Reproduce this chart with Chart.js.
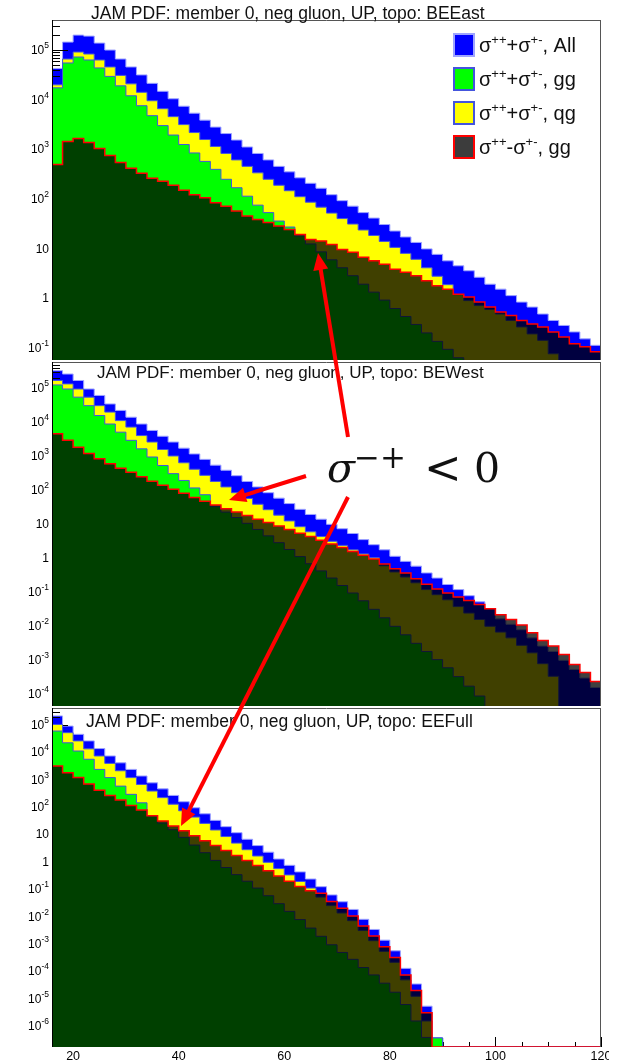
<!DOCTYPE html>
<html>
<head>
<meta charset="utf-8">
<title>JAM PDF: member 0, neg gluon, UP</title>
<script src="https://cdn.jsdelivr.net/npm/chart.js@4.4.1/dist/chart.umd.min.js"></script>
<style>
  html, body { margin: 0; padding: 0; background: #fff; }
  #page { position: relative; width: 625px; height: 1063px; overflow: hidden;
          font-family: "Liberation Sans", Arial, sans-serif; }
  #page canvas { position: absolute; left: 0; }
  .title { position: absolute; font-size: 17.5px; line-height: 1; color: #111; white-space: nowrap; }
  .leg { position: absolute; left: 453px; height: 24px; line-height: 24px; font-size: 20px;
         color: #111; white-space: nowrap; }
  .leg .box { display: inline-block; box-sizing: border-box; width: 22px; height: 24px;
              vertical-align: top; margin-right: 4px; border: 2px solid; }
  .leg sup { font-size: 13px; vertical-align: 8px; line-height: 0; }
  .math { position: absolute; font-family: "DejaVu Serif", serif; line-height: 1; color: #111; white-space: nowrap; }
  #arrows { position: absolute; left: 0; top: 0; }
  #edge { position: absolute; left: 609px; top: 1048px; width: 16px; height: 15px; background: #fff; }
</style>
</head>
<body>
<div id="page">
  <canvas id="cEast" width="625" height="362" style="top:0"></canvas>
  <canvas id="cWest" width="625" height="346" style="top:361px"></canvas>
  <canvas id="cFull" width="625" height="356" style="top:707px"></canvas>

  <div class="title" style="left:91px;top:4.5px">JAM PDF: member 0, neg gluon, UP, topo: BEEast</div>
  <div class="title" style="left:97px;top:363.5px;font-size:17px">JAM PDF: member 0, neg gluon, UP, topo: BEWest</div>
  <div class="title" style="left:86px;top:713px">JAM PDF: member 0, neg gluon, UP, topo: EEFull</div>

  <div class="leg" style="top:33px"><span class="box" style="background:#0000ff;border-color:#9ea4ff"></span>σ<sup>++</sup>+σ<sup>+-</sup>, All</div>
  <div class="leg" style="top:67px"><span class="box" style="background:#00ff00;border-color:#4455dd"></span>σ<sup>++</sup>+σ<sup>+-</sup>, gg</div>
  <div class="leg" style="top:101px"><span class="box" style="background:#ffff00;border-color:#4455dd"></span>σ<sup>++</sup>+σ<sup>+-</sup>, qg</div>
  <div class="leg" style="top:135px"><span class="box" style="background:#3c3c3c;border-color:#ff0000"></span>σ<sup>++</sup>-σ<sup>+-</sup>, gg</div>

  <span class="math" style="left:327px;top:448px;font-size:41px;font-style:italic">σ</span>
  <span class="math" style="left:354px;top:442px;font-size:31px">−+</span>
  <span class="math" style="left:424px;top:445px;font-size:45px">&lt;</span>
  <span class="math" style="left:474px;top:448px;font-size:41px">0</span>

  <svg id="arrows" width="625" height="1063"></svg>
  <div id="edge"></div>
</div>

<script>
// bin edges of the pT histograms (2 GeV bins)
const binEdges = [16, 18, 20, 22, 24, 26, 28, 30, 32, 34, 36, 38, 40, 42, 44, 46, 48, 50, 52, 54,
  56, 58, 60, 62, 64, 66, 68, 70, 72, 74, 76, 78, 80, 82, 84, 86, 88, 90, 92, 94,
  96, 98, 100, 102, 104, 106, 108, 110, 112, 114, 116, 118, 120];

// bin contents, stored as log10 (null = empty bin)
// topo: BEEast
const allEast = [4.63, 5.16, 5.30, 5.28, 5.14, 5.00, 4.82, 4.66, 4.50, 4.33,
  4.17, 4.02, 3.87, 3.73, 3.59, 3.45, 3.32, 3.19, 3.05, 2.92,
  2.79, 2.66, 2.55, 2.43, 2.32, 2.22, 2.09, 1.97, 1.86, 1.73,
  1.62, 1.49, 1.36, 1.24, 1.13, 1.00, 0.89, 0.76, 0.66, 0.56,
  0.43, 0.29, 0.19, 0.06, -0.07, -0.17, -0.31, -0.44, -0.54, -0.67,
  -0.81, -0.94];
const qgEast = [4.30, 4.82, 4.96, 4.92, 4.80, 4.66, 4.49, 4.32, 4.15, 3.98,
  3.82, 3.66, 3.50, 3.34, 3.20, 3.06, 2.92, 2.79, 2.66, 2.53,
  2.40, 2.28, 2.17, 2.05, 1.94, 1.84, 1.72, 1.61, 1.50, 1.38,
  1.27, 1.15, 1.03, 0.91, 0.79, 0.62, 0.45, 0.28, 0.08, -0.04,
  -0.14, -0.22, -0.31, -0.44, -0.57, -0.71, -0.84, -1.11, -1.50, -1.80,
  -2.10, -2.40];
const ggEast = [4.24, 4.74, 4.86, 4.80, 4.64, 4.47, 4.28, 4.08, 3.88, 3.68,
  3.48, 3.29, 3.10, 2.93, 2.76, 2.60, 2.40, 2.23, 2.06, 1.88,
  1.73, 1.56, 1.44, 1.26, 1.10, 0.94, 0.78, 0.62, 0.46, 0.29,
  0.13, -0.03, -0.20, -0.36, -0.52, -0.69, -0.86, -1.02, -1.19, -1.36,
  -1.53, -1.71, -1.88, -2.06, -2.22, -2.41, -2.57, -2.76, -2.93, -3.10,
  -3.28, -3.45];
const diffEast = [2.70, 3.16, 3.22, 3.14, 3.02, 2.88, 2.74, 2.62, 2.52, 2.42,
  2.36, 2.28, 2.18, 2.09, 2.03, 1.93, 1.86, 1.76, 1.66, 1.59,
  1.53, 1.46, 1.39, 1.29, 1.19, 1.16, 1.09, 0.99, 0.93, 0.83,
  0.76, 0.69, 0.59, 0.53, 0.46, 0.36, 0.26, 0.19, 0.09, 0.03,
  -0.07, -0.17, -0.27, -0.34, -0.44, -0.51, -0.57, -0.67, -0.77, -0.91,
  -0.97, -1.07];

// topo: BEWest
const allWest = [5.52, 5.42, 5.23, 4.98, 4.79, 4.54, 4.35, 4.15, 3.95, 3.76,
  3.59, 3.42, 3.24, 3.07, 2.91, 2.74, 2.59, 2.43, 2.26, 2.10,
  1.93, 1.77, 1.61, 1.44, 1.29, 1.15, 1.00, 0.87, 0.73, 0.55,
  0.40, 0.25, 0.06, -0.09, -0.23, -0.43, -0.58, -0.77, -0.92, -1.10,
  -1.28, -1.48, -1.78, -1.94, -2.10, -2.34, -2.58, -2.74, -3.00, -3.27,
  -3.52, -3.80];
const qgWest = [5.23, 5.13, 4.98, 4.74, 4.49, 4.30, 4.05, 3.86, 3.61, 3.42,
  3.20, 3.01, 2.81, 2.62, 2.44, 2.26, 2.10, 1.93, 1.76, 1.59,
  1.43, 1.27, 1.10, 0.93, 0.78, 0.64, 0.50, 0.38, 0.25, 0.13,
  0.02, -0.22, -0.40, -0.55, -0.72, -0.92, -1.07, -1.22, -1.42, -1.61,
  -1.80, -2.00, -2.17, -2.34, -2.56, -2.78, -3.10, -3.47, -4.50, -4.80,
  -5.10, -5.40];
const ggWest = [5.10, 4.98, 4.74, 4.49, 4.20, 3.95, 3.71, 3.47, 3.22, 2.98,
  2.73, 2.49, 2.29, 2.07, 1.87, 1.52, 1.36, 1.20, 1.03, 0.85,
  0.66, 0.46, 0.26, 0.05, -0.16, -0.37, -0.58, -0.80, -1.02, -1.25,
  -1.50, -1.75, -2.00, -2.25, -2.50, -2.74, -2.98, -3.22, -3.48, -3.76,
  -4.05, -4.40, -4.80, -5.10, -5.40, -5.70, -6.00, -6.30, -6.60, -6.90,
  -7.20, -7.50];
const diffWest = [3.66, 3.47, 3.27, 3.08, 2.93, 2.78, 2.65, 2.53, 2.40, 2.27,
  2.15, 2.03, 1.91, 1.79, 1.68, 1.57, 1.46, 1.36, 1.26, 1.15,
  1.05, 0.95, 0.85, 0.74, 0.64, 0.53, 0.42, 0.32, 0.20, 0.09,
  -0.02, -0.17, -0.31, -0.43, -0.60, -0.76, -0.90, -1.02, -1.14, -1.24,
  -1.36, -1.48, -1.66, -1.80, -1.96, -2.19, -2.42, -2.58, -2.83, -3.12,
  -3.36, -3.62];

// topo: EEFull
const allFull = [5.33, 4.96, 4.66, 4.42, 4.14, 3.87, 3.62, 3.38, 3.14, 2.89,
  2.67, 2.43, 2.20, 1.98, 1.76, 1.52, 1.29, 1.07, 0.83, 0.60,
  0.36, 0.11, -0.12, -0.36, -0.62, -0.90, -1.20, -1.45, -1.73, -2.09,
  -2.46, -2.85, -3.24, -3.88, -4.45, -5.26, -6.42, null, null, null,
  null, null, null, null, null, null, null, null, null, null,
  null, null];
const qgFull = [5.02, 4.72, 4.42, 4.13, 3.87, 3.60, 3.33, 3.08, 2.83, 2.59,
  2.35, 2.11, 1.87, 1.64, 1.41, 1.17, 0.93, 0.69, 0.45, 0.22,
  -0.01, -0.24, -0.47, -0.71, -0.95, -1.28, -1.59, -1.86, -2.14, -2.50,
  -2.87, -3.26, -3.66, -4.30, -4.90, -5.80, -6.42, null, null, null,
  null, null, null, null, null, null, null, null, null, null,
  null, null];
const ggFull = [4.78, 4.35, 4.05, 3.75, 3.38, 3.08, 2.77, 2.47, 2.16, 1.68,
  1.42, 1.18, 0.90, 0.62, 0.34, 0.06, -0.20, -0.46, -0.70, -0.95,
  -1.23, -1.52, -1.80, -2.10, -2.41, -2.71, -3.02, -3.30, -3.55, -3.85,
  -4.12, -4.42, -4.75, -5.20, -5.80, -6.40, -6.42, null, null, null,
  null, null, null, null, null, null, null, null, null, null,
  null, null];
const diffFull = [3.50, 3.26, 3.08, 2.85, 2.62, 2.43, 2.26, 2.06, 1.90, 1.69,
  1.50, 1.31, 1.14, 0.96, 0.78, 0.60, 0.42, 0.24, 0.06, -0.13,
  -0.32, -0.51, -0.70, -0.89, -1.05, -1.14, -1.44, -1.69, -1.97, -2.33,
  -2.70, -3.09, -3.48, -4.12, -4.69, -5.50, null, null, null, null,
  null, null, null, null, null, null, null, null, null, null,
  null, null];

// axis labels
const eastDecades = [0.1, 1, 10, 100, 1e3, 1e4, 1e5];
const westDecades = [1e-4, 1e-3, 0.01, 0.1, 1, 10, 100, 1e3, 1e4, 1e5];
const fullDecades = [1e-6, 1e-5, 1e-4, 1e-3, 0.01, 0.1, 1, 10, 100, 1e3, 1e4, 1e5];
const xTickValues = [20, 40, 60, 80, 100, 120];

const FONT = '"Liberation Sans", Arial, sans-serif';
// the sigma++ - sigma+- histogram darkens whatever lies under it
const DIFF_SHADE = 'rgba(0,0,0,0.75)';

// y-axis ticks drawn inside the frame, right after the "All" histogram
const axisTicks = {
  id: 'axisTicks',
  beforeDatasetsDraw(chart) {
    // bottom frame line sits under the histograms
    const ctx = chart.ctx, a = chart.chartArea;
    ctx.save();
    ctx.strokeStyle = '#000';
    ctx.lineWidth = 1;
    ctx.beginPath();
    ctx.moveTo(a.left, a.bottom - 0.5); ctx.lineTo(a.right, a.bottom - 0.5);
    ctx.stroke();
    ctx.restore();
  },
  afterDatasetDraw(chart, args, opts) {
    if (args.index !== 0) return;
    const ctx = chart.ctx, a = chart.chartArea, y = chart.scales.y, x = chart.scales.x;
    ctx.save();
    ctx.strokeStyle = '#000';
    ctx.lineWidth = 1;
    ctx.beginPath();
    const lo = Math.floor(Math.log10(y.min)), hi = Math.ceil(Math.log10(y.max));
    for (let e = lo; e <= hi; e++) {
      for (let m = 1; m <= 9; m++) {
        const v = m * Math.pow(10, e);
        if (v < y.min || v > y.max) continue;
        const py = Math.round(y.getPixelForValue(v)) + 0.5;
        ctx.moveTo(a.left, py);
        ctx.lineTo(a.left + (m === 1 ? 16 : 8), py);
      }
    }
    if (opts.xTicks) {
      for (let v = 20; v <= 120; v += 5) {
        const px = Math.round(x.getPixelForValue(v)) + 0.5;
        ctx.moveTo(px, a.bottom);
        ctx.lineTo(px, a.bottom - (xTickValues.includes(v) ? 10 : 5));
      }
    }
    ctx.stroke();
    ctx.restore();
  }
};

// frame and log labels (10^n with a raised exponent)
const frameLabels = {
  id: 'frameLabels',
  afterDraw(chart, args, opts) {
    const ctx = chart.ctx, a = chart.chartArea, y = chart.scales.y;
    ctx.save();
    ctx.lineWidth = 1;
    ctx.strokeStyle = '#555';
    ctx.beginPath();
    ctx.moveTo(a.left, a.top + 0.5); ctx.lineTo(a.right, a.top + 0.5);
    ctx.moveTo(a.right - 0.5, a.top); ctx.lineTo(a.right - 0.5, a.bottom);
    ctx.stroke();
    ctx.strokeStyle = '#000';
    ctx.beginPath();
    ctx.moveTo(a.left + 0.5, a.top); ctx.lineTo(a.left + 0.5, a.bottom);
    ctx.stroke();

    ctx.fillStyle = '#000';
    ctx.textBaseline = 'middle';
    ctx.textAlign = 'left';
    const right = 49;
    opts.decades.forEach(function (v) {
      const e = Math.round(Math.log10(v));
      const py = y.getPixelForValue(v);
      if (e === 0 || e === 1) {
        ctx.font = '12px ' + FONT;
        const t = e === 0 ? '1' : '10';
        ctx.fillText(t, right - ctx.measureText(t).width, py + 0.5);
        return;
      }
      const ex = String(e);
      ctx.font = '8.5px ' + FONT;
      const we = ctx.measureText(ex).width;
      ctx.font = '12px ' + FONT;
      const wb = ctx.measureText('10').width;
      ctx.fillText('10', right - we - wb, py + 0.5);
      ctx.font = '8.5px ' + FONT;
      ctx.fillText(ex, right - we, py - 4.5);
    });
    ctx.restore();
  }
};

function histo(logs, fill, line, width, order, yMin) {
  const pts = logs.map(function (v, i) {
    return { x: binEdges[i], y: v === null ? yMin : Math.pow(10, v) };
  });
  pts.push({ x: binEdges[logs.length], y: pts[pts.length - 1].y });
  return {
    data: pts,
    backgroundColor: fill,
    borderColor: line,
    borderWidth: width,
    fill: 'start',
    stepped: 'before',
    pointRadius: 0,
    order: order
  };
}

function panel(id, series, yMin, yMax, decades, pad, showX) {
  const canvas = document.getElementById(id);
  const x = {
    type: 'linear', min: 16, max: 120, display: showX,
    grid: { display: false, drawTicks: false },
    border: { display: false },
    ticks: { color: '#000', font: { family: FONT, size: 12.5 }, padding: 2, maxRotation: 0 },
    afterBuildTicks: function (s) { s.ticks = xTickValues.map(function (v) { return { value: v }; }); }
  };
  if (showX) x.afterFit = function (s) { s.height = 16; };
  return new Chart(canvas, {
    type: 'line',
    data: {
      datasets: [
        histo(series[0], '#0000ff', '#9ea4ff', 1, 4, yMin),
        histo(series[1], '#ffff00', '#4455dd', 1, 3, yMin),
        histo(series[2], '#00ff00', '#4455dd', 1, 2, yMin),
        histo(series[3], DIFF_SHADE, '#ff0000', 1.5, 1, yMin)
      ]
    },
    options: {
      responsive: false,
      animation: false,
      devicePixelRatio: 1,
      layout: { padding: { left: 52, right: 24, top: pad[0], bottom: pad[1] } },
      plugins: {
        legend: { display: false },
        tooltip: { enabled: false },
        axisTicks: { xTicks: showX },
        frameLabels: { decades: decades }
      },
      scales: {
        x: x,
        y: { type: 'logarithmic', min: yMin, max: yMax, display: false }
      }
    },
    plugins: [axisTicks, frameLabels]
  });
}

panel('cEast', [allEast, qgEast, ggEast, diffEast], 0.0582, 4.02e5, eastDecades, [20, 2], false);
panel('cWest', [allWest, qgWest, ggWest, diffWest], 4.53e-5, 5.94e5, westDecades, [1, 1], false);
panel('cFull', [allFull, qgFull, ggFull, diffFull], 1.78e-7, 4.17e5, fullDecades, [1, 0], true);

// red arrows pointing at the sigma-+ < 0 regions
const svg = document.getElementById('arrows');
const NS = 'http://www.w3.org/2000/svg';
[[348, 437, 318, 253], [306, 476, 229, 500], [348, 497, 181, 826]].forEach(function (r) {
  const dx = r[2] - r[0], dy = r[3] - r[1], d = Math.hypot(dx, dy);
  const ux = dx / d, uy = dy / d, len = 17, half = 7.5;
  const bx = r[2] - ux * len, by = r[3] - uy * len;
  const ln = document.createElementNS(NS, 'line');
  ln.setAttribute('x1', r[0]); ln.setAttribute('y1', r[1]);
  ln.setAttribute('x2', bx + ux * 2); ln.setAttribute('y2', by + uy * 2);
  ln.setAttribute('stroke', '#ff0000'); ln.setAttribute('stroke-width', 4);
  svg.appendChild(ln);
  const head = document.createElementNS(NS, 'polygon');
  head.setAttribute('points', [r[2], r[3], bx - uy * half, by + ux * half, bx + uy * half, by - ux * half].join(' '));
  head.setAttribute('fill', '#ff0000');
  svg.appendChild(head);
});
</script>
</body>
</html>
